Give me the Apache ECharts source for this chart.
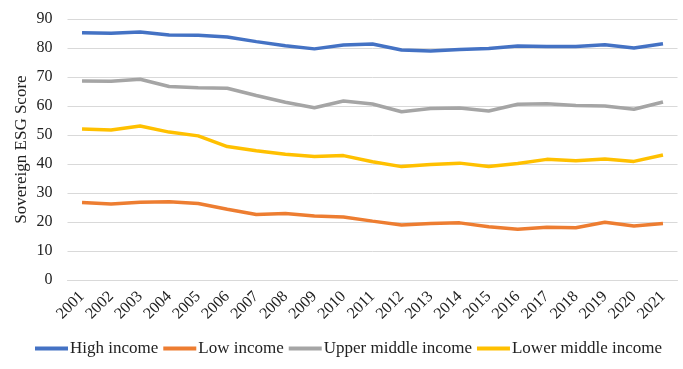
<!DOCTYPE html>
<html>
<head>
<meta charset="utf-8">
<script src="https://cdn.jsdelivr.net/npm/echarts@6/dist/echarts.min.js"></script>
<style>
  html, body { margin: 0; padding: 0; background: #fff; }
  #main { width: 683px; height: 369px; }
</style>
</head>
<body>
<div id="main"></div>
<script>
var years = ['2001','2002','2003','2004','2005','2006','2007','2008','2009','2010','2011',
  '2012','2013','2014','2015','2016','2017','2018','2019','2020','2021'];
var highIncome = [85.3, 85.1, 85.5, 84.5, 84.4, 83.8, 82.2, 80.8, 79.7, 81.0, 81.4,
  79.3, 79.0, 79.5, 79.8, 80.7, 80.5, 80.5, 81.1, 80.0, 81.5];
var lowIncome = [26.7, 26.2, 26.8, 27.0, 26.4, 24.4, 22.6, 22.9, 22.1, 21.7, 20.3,
  19.0, 19.5, 19.7, 18.4, 17.5, 18.2, 18.0, 19.9, 18.6, 19.5];
var upperMiddle = [68.6, 68.5, 69.2, 66.7, 66.3, 66.1, 63.6, 61.3, 59.4, 61.7, 60.7,
  58.0, 59.1, 59.3, 58.3, 60.6, 60.8, 60.2, 60.0, 58.9, 61.4];
var lowerMiddle = [52.1, 51.7, 53.1, 51.0, 49.7, 46.0, 44.6, 43.4, 42.6, 42.9, 40.8,
  39.1, 39.8, 40.3, 39.1, 40.2, 41.6, 41.1, 41.7, 40.9, 43.1];

var fontFam = '"Liberation Serif", "Times New Roman", serif';
var chart = echarts.init(document.getElementById('main'));

function line(name, data, color) {
  return {
    name: name,
    type: 'line',
    data: data,
    symbol: 'none',
    smooth: false,
    lineStyle: { width: 3.5, color: color },
    itemStyle: { color: color }
  };
}

var option = {
  backgroundColor: '#fff',
  animation: false,
  textStyle: { fontFamily: fontFam },
  grid: { left: 67.5, right: 5.5, top: 19, bottom: 89 },
  legend: {
    bottom: 7,
    left: 30,
    itemWidth: 33,
    itemHeight: 4,
    itemGap: 5,
    icon: 'rect',
    textStyle: { fontFamily: fontFam, fontSize: 17, color: '#222', padding: [0, 0, 0, -3] },
    data: ['High income', 'Low income', 'Upper middle income', 'Lower middle income']
  },
  xAxis: {
    type: 'category',
    data: years,
    boundaryGap: true,
    axisLine: { show: true, lineStyle: { color: '#d9d9d9', width: 1 } },
    axisTick: { show: false },
    axisLabel: {
      rotate: 45,
      interval: 0,
      margin: 14,
      fontFamily: fontFam,
      fontSize: 16,
      color: '#222'
    }
  },
  yAxis: {
    type: 'value',
    min: 0,
    max: 90,
    interval: 10,
    name: 'Sovereign ESG Score',
    nameLocation: 'middle',
    nameGap: 37,
    nameMoveOverlap: false,
    nameTextStyle: { fontFamily: fontFam, fontSize: 17, color: '#222' },
    axisLine: { show: false },
    axisTick: { show: false },
    axisLabel: { margin: 15, fontFamily: fontFam, fontSize: 16, color: '#222' },
    splitLine: { lineStyle: { color: '#d9d9d9', width: 1 } }
  },
  series: [
    line('High income', highIncome, '#4472C4'),
    line('Low income', lowIncome, '#ED7D31'),
    line('Upper middle income', upperMiddle, '#A5A5A5'),
    line('Lower middle income', lowerMiddle, '#FFC000')
  ]
};

chart.setOption(option);
</script>
</body>
</html>
